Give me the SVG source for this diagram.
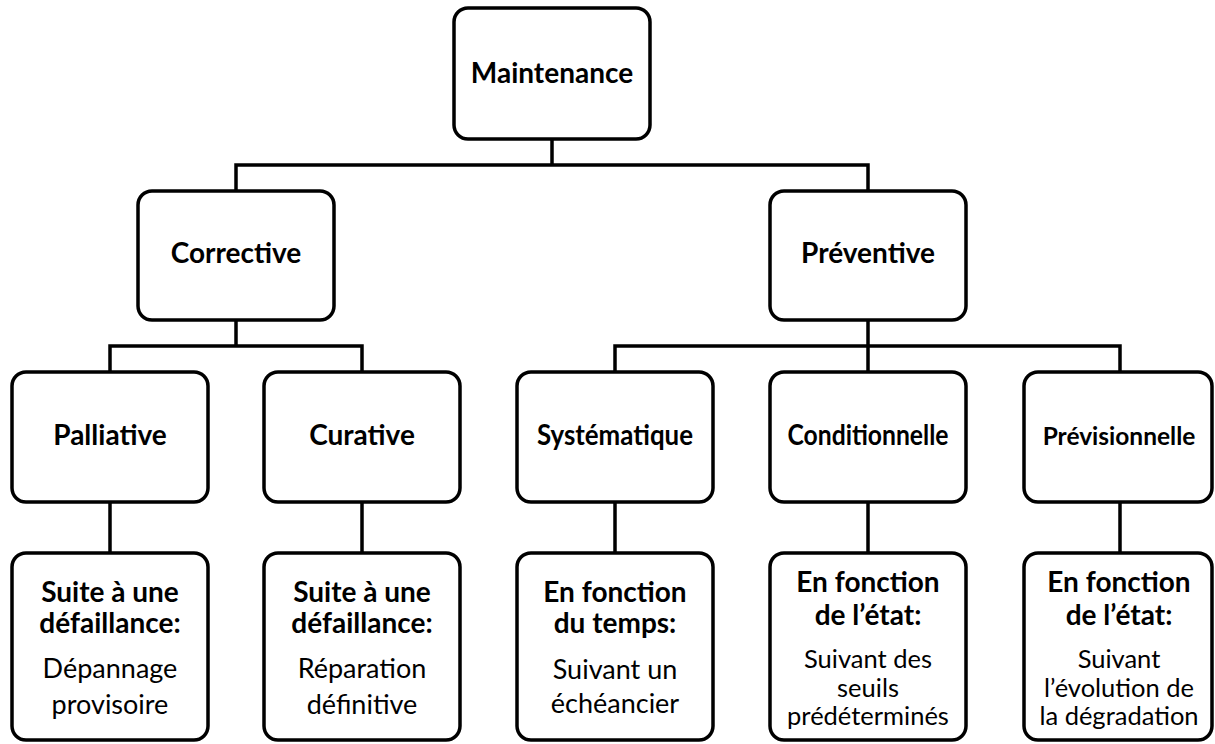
<svg xmlns="http://www.w3.org/2000/svg" width="1215" height="744" viewBox="0 0 1215 744">
<style>
.box{fill:#fff;stroke:#000;stroke-width:3.5}
.con{fill:none;stroke:#000;stroke-width:3.5}
text{font-family:Lato,"Liberation Sans",sans-serif;fill:#000;text-anchor:middle}
.h{font-size:28px;font-weight:bold}
.b{font-size:28px;font-weight:bold}
.r{font-size:27px}
.s{font-size:25.5px}
</style>
<rect width="1215" height="744" fill="#fff"/>
<g id="connectors">
<path class="con" d="M552 139V165M236 191V165H868V191M236 320V346M110 372V346H362V372M868 320V346M615 372V346H1120V372M868 346V372M110 502V553M362 502V553M615 502V553M868 502V553M1120 502V553"/>
</g>
<g id="maintenance"><rect class="box" x="454" y="8" width="196" height="131" rx="14"/><text class="h" x="552" y="83">Maintenance</text></g>
<g id="corrective"><rect class="box" x="138" y="191" width="196" height="129" rx="14"/><text class="h" x="236" y="263">Corrective</text></g>
<g id="preventive"><rect class="box" x="770" y="191" width="196" height="129" rx="14"/><text class="h" x="868" y="263">Préventive</text></g>
<g id="palliative"><rect class="box" x="12" y="372" width="196" height="130" rx="14"/><text class="h" x="110" y="445">Palliative</text></g>
<g id="curative"><rect class="box" x="264" y="372" width="196" height="130" rx="14"/><text class="h" x="362" y="445">Curative</text></g>
<g id="systematique"><rect class="box" x="517" y="372" width="196" height="130" rx="14"/><text class="h" x="615" y="445" textLength="156" lengthAdjust="spacingAndGlyphs">Systématique</text></g>
<g id="conditionnelle"><rect class="box" x="770" y="372" width="196" height="130" rx="14"/><text class="h" x="868" y="445" textLength="161" lengthAdjust="spacingAndGlyphs">Conditionnelle</text></g>
<g id="previsionnelle"><rect class="box" x="1024" y="372" width="188" height="130" rx="14"/><text class="h" x="1119" y="445" style="font-size:24.5px">Prévisionnelle</text></g>
<g id="depannage"><rect class="box" x="12" y="553" width="196" height="187" rx="14"/>
<text class="b" x="110" y="602">Suite à une</text><text class="b" x="110" y="633">défaillance:</text>
<text class="r" x="110" y="678">Dépannage</text><text class="r" x="110" y="714">provisoire</text></g>
<g id="reparation"><rect class="box" x="264" y="553" width="196" height="187" rx="14"/>
<text class="b" x="362" y="602">Suite à une</text><text class="b" x="362" y="633">défaillance:</text>
<text class="r" x="362" y="678">Réparation</text><text class="r" x="362" y="714">définitive</text></g>
<g id="temps"><rect class="box" x="517" y="553" width="196" height="187" rx="14"/>
<text class="b" x="615" y="602">En fonction</text><text class="b" x="615" y="633">du temps:</text>
<text class="r" x="615" y="679">Suivant un</text><text class="r" x="615" y="713">échéancier</text></g>
<g id="seuils"><rect class="box" x="770" y="553" width="196" height="187" rx="14"/>
<text class="b" x="868" y="592">En fonction</text><text class="b" x="868" y="625">de l’état:</text>
<text class="s" x="868" y="668">Suivant des</text><text class="s" x="868" y="697">seuils</text><text class="s" x="868" y="725">prédéterminés</text></g>
<g id="degradation"><rect class="box" x="1024" y="553" width="188" height="187" rx="14"/>
<text class="b" x="1119" y="592">En fonction</text><text class="b" x="1119" y="625">de l’état:</text>
<text class="s" x="1119" y="668">Suivant</text><text class="s" x="1119" y="697">l’évolution de</text><text class="s" x="1119" y="725">la dégradation</text></g>
</svg>
